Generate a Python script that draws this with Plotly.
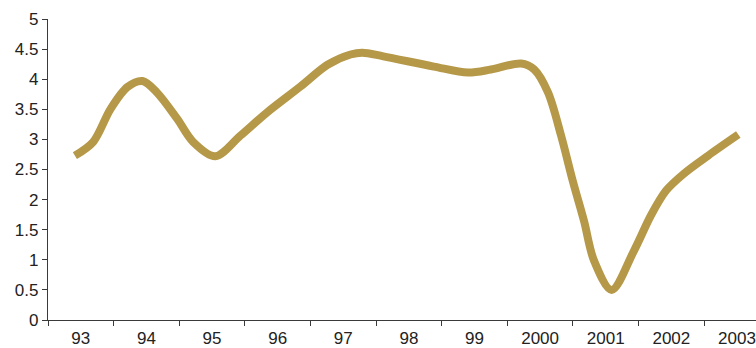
import plotly.graph_objects as go

# Annual growth series, sampled at fractional years
time = [1992.91, 1993.19, 1993.45, 1993.71, 1993.94, 1994.16, 1994.47, 1994.71,
        1995.05, 1995.43, 1995.84, 1996.35, 1996.76, 1997.11, 1997.29, 1997.61,
        1998.38, 1998.90, 1999.25, 1999.71, 1999.91, 2000.12, 2000.32, 2000.50,
        2000.67, 2000.82, 2001.09, 2001.43, 2001.69, 2001.92, 2002.19, 2002.56,
        2003.02]
values = [2.73, 2.96, 3.50, 3.87, 3.97, 3.78, 3.34, 2.96,
          2.72, 3.06, 3.45, 3.88, 4.24, 4.41, 4.44, 4.38,
          4.21, 4.11, 4.16, 4.26, 4.16, 3.78, 3.06, 2.30,
          1.64, 0.99, 0.50, 1.15, 1.74, 2.15, 2.43, 2.73,
          3.08]

year_ticks = list(range(1993, 2004))
year_labels = ["93", "94", "95", "96", "97", "98", "99", "2000", "2001", "2002", "2003"]
y_ticks = [0, 0.5, 1, 1.5, 2, 2.5, 3, 3.5, 4, 4.5, 5]
y_labels = ["0", "0.5", "1", "1.5", "2", "2.5", "3", "3.5", "4", "4.5", "5"]

gold = "#B59848"
axis_col = "#3a3a3a"
font = dict(family="Liberation Sans, Arial, sans-serif", size=17, color="#222222")

fig = go.Figure(
    go.Scatter(
        x=time, y=values, mode="lines",
        line=dict(color=gold, width=8, shape="spline", smoothing=0.9),
        hoverinfo="skip",
    )
)

fig.update_layout(
    width=756, height=348,
    margin=dict(l=48, r=0, t=19, b=24),
    paper_bgcolor="white", plot_bgcolor="white",
    showlegend=False,
    font=font,
)

fig.update_xaxes(
    range=[1992.5, 2003.29],
    tickvals=year_ticks, ticktext=year_labels,
    ticks="outside", ticklen=2, tickcolor="rgba(0,0,0,0)",
    showgrid=False, zeroline=False,
    showline=True, linecolor=axis_col, linewidth=1.2,
    minor=dict(ticks="outside", tick0=1992.5, dtick=1, ticklen=5,
               tickcolor=axis_col, tickwidth=1.2, showgrid=False),
    tickfont=font,
)

fig.update_yaxes(
    range=[0, 5],
    tickvals=y_ticks, ticktext=y_labels,
    ticks="outside", ticklen=5, tickcolor=axis_col, tickwidth=1.2,
    showgrid=False, zeroline=False,
    showline=True, linecolor=axis_col, linewidth=1.2,
    tickfont=font,
)

fig.write_html("out.html")
